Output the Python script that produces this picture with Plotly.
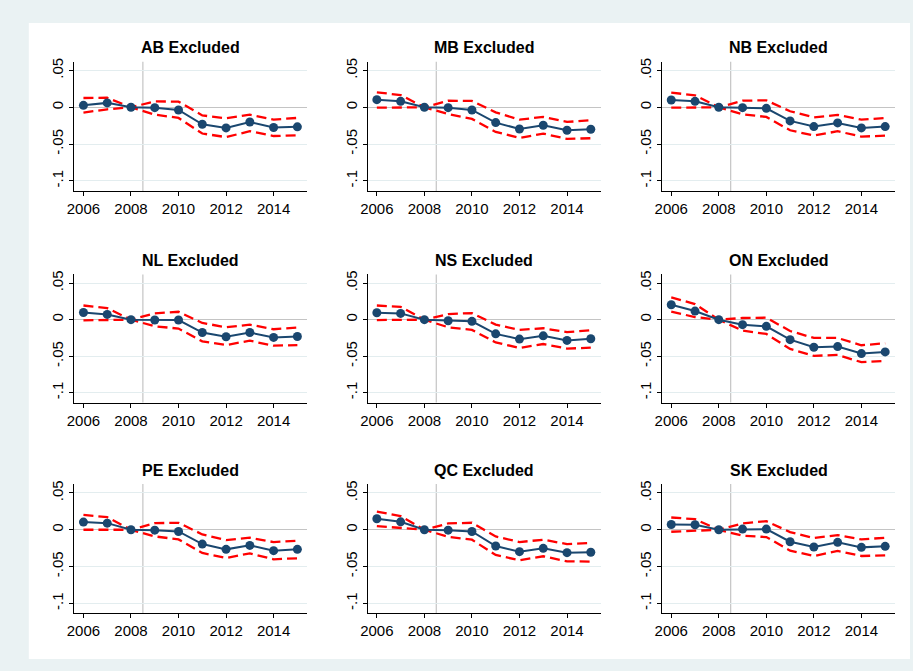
import plotly.graph_objects as go

# event-study estimates with 95% CI, one panel per excluded province
years = [2006, 2007, 2008, 2009, 2010, 2011, 2012, 2013, 2014, 2015]
provinces = ["AB", "MB", "NB", "NL", "NS", "ON", "PE", "QC", "SK"]

est = {
    "AB": [0.0027, 0.0060, 0, -0.0005, -0.0036, -0.0230, -0.0280, -0.0200, -0.0275, -0.0265],
    "MB": [0.0104, 0.0081, 0, -0.0005, -0.0036, -0.0208, -0.0294, -0.0244, -0.0312, -0.0298],
    "NB": [0.0099, 0.0081, 0, -0.0005, -0.0014, -0.0185, -0.0262, -0.0212, -0.0280, -0.0262],
    "NL": [0.0099, 0.0072, 0, -0.0005, -0.0005, -0.0176, -0.0234, -0.0176, -0.0243, -0.0230],
    "NS": [0.0095, 0.0086, 0, -0.0014, -0.0023, -0.0194, -0.0266, -0.0221, -0.0284, -0.0261],
    "ON": [0.0205, 0.0118, 0, -0.0068, -0.0091, -0.0273, -0.0377, -0.0368, -0.0464, -0.0441],
    "PE": [0.0104, 0.0090, 0, -0.0005, -0.0023, -0.0194, -0.0266, -0.0212, -0.0284, -0.0266],
    "QC": [0.0149, 0.0108, 0, -0.0005, -0.0023, -0.0221, -0.0297, -0.0252, -0.0311, -0.0306],
    "SK": [0.0072, 0.0068, 0, 0.0009, 0.0009, -0.0162, -0.0234, -0.0171, -0.0239, -0.0225],
}
upper = {
    "AB": [0.0126, 0.0130, 0, 0.0080, 0.0077, -0.0110, -0.0150, -0.0100, -0.0167, -0.0144],
    "MB": [0.0203, 0.0167, 0, 0.0090, 0.0086, -0.0068, -0.0167, -0.0131, -0.0199, -0.0176],
    "NB": [0.0199, 0.0163, 0, 0.0090, 0.0095, -0.0054, -0.0136, -0.0104, -0.0167, -0.0145],
    "NL": [0.0194, 0.0158, 0, 0.0086, 0.0108, -0.0045, -0.0104, -0.0068, -0.0131, -0.0108],
    "NS": [0.0194, 0.0176, 0, 0.0077, 0.0090, -0.0068, -0.0140, -0.0117, -0.0171, -0.0144],
    "ON": [0.0305, 0.0214, 0, 0.0023, 0.0027, -0.0155, -0.0250, -0.0250, -0.0350, -0.0323],
    "PE": [0.0203, 0.0171, 0, 0.0090, 0.0095, -0.0063, -0.0140, -0.0108, -0.0167, -0.0149],
    "QC": [0.0248, 0.0185, 0, 0.0086, 0.0095, -0.0090, -0.0167, -0.0135, -0.0194, -0.0180],
    "SK": [0.0167, 0.0144, 0, 0.0086, 0.0117, -0.0032, -0.0113, -0.0072, -0.0131, -0.0108],
}
lower = {
    "AB": [-0.0072, -0.0027, 0, -0.0099, -0.0144, -0.0356, -0.0405, -0.0324, -0.0390, -0.0380],
    "MB": [-0.0005, -0.0005, 0, -0.0090, -0.0158, -0.0334, -0.0416, -0.0357, -0.0429, -0.0420],
    "NB": [-0.0005, 0.0000, 0, -0.0095, -0.0131, -0.0312, -0.0384, -0.0325, -0.0398, -0.0384],
    "NL": [-0.0009, -0.0009, 0, -0.0090, -0.0122, -0.0297, -0.0347, -0.0288, -0.0356, -0.0347],
    "NS": [-0.0005, 0.0000, 0, -0.0104, -0.0140, -0.0311, -0.0387, -0.0333, -0.0396, -0.0383],
    "ON": [0.0109, 0.0036, 0, -0.0150, -0.0195, -0.0400, -0.0495, -0.0482, -0.0582, -0.0564],
    "PE": [0.0000, 0.0000, 0, -0.0090, -0.0131, -0.0315, -0.0383, -0.0320, -0.0401, -0.0387],
    "QC": [0.0050, 0.0027, 0, -0.0095, -0.0135, -0.0342, -0.0414, -0.0360, -0.0428, -0.0432],
    "SK": [-0.0027, -0.0018, 0, -0.0081, -0.0099, -0.0284, -0.0356, -0.0288, -0.0356, -0.0347],
}

ytick_vals = [0.05, 0, -0.05, -0.1]
ytick_text = [".05", "0", "-.05", "-.1"]
xtick_vals = [2006, 2008, 2010, 2012, 2014]

W, H = 913, 671
NAVY = "#1a476f"
RED = "#ff0000"
BG = "#eaf2f3"

# panel pixel boxes (left, right) and (top, bottom) in window pixels
col_px = [(67, 302), (363, 598), (660, 895)]
row_px = [(58, 188), (272, 401), (483, 613)]


def px_x(x):
    return x / W


def px_y(y):
    return 1 - y / H


fig = go.Figure()
layout = {}
shapes = [dict(type="rect", xref="paper", yref="paper",
               x0=px_x(21), x1=px_x(910), y0=px_y(659), y1=px_y(19),
               fillcolor="white", line=dict(width=0), layer="below")]
annotations = []

for n, prov in enumerate(provinces):
    r, c = divmod(n, 3)
    sfx = "" if n == 0 else str(n + 1)
    xa, ya = "x" + sfx, "y" + sfx
    x0, x1 = col_px[c]
    t, b = row_px[r]

    for ci in (upper, lower):
        fig.add_trace(go.Scatter(x=years, y=ci[prov], mode="lines", xaxis=xa, yaxis=ya,
                                 line=dict(color=RED, width=2.3, dash="10px,5px"),
                                 showlegend=False, hoverinfo="skip"))
    fig.add_trace(go.Scatter(x=years, y=est[prov], mode="lines+markers", xaxis=xa, yaxis=ya,
                             line=dict(color=NAVY, width=2),
                             marker=dict(color=NAVY, size=9),
                             showlegend=False))

    layout["xaxis" + sfx] = dict(
        domain=[px_x(x0), px_x(x1)], anchor=ya, range=[2005.62, 2015.42],
        tickvals=xtick_vals, ticks="outside", ticklen=4, tickcolor="black",
        showline=True, linecolor="black", linewidth=1, showgrid=False, zeroline=False,
        tickfont=dict(family="Liberation Sans, Arial", size=15, color="black"))
    layout["yaxis" + sfx] = dict(
        domain=[px_y(b), px_y(t)], anchor=xa, range=[-0.1135, 0.062],
        tickvals=ytick_vals, ticktext=ytick_text, tickangle=-90,
        ticks="outside", ticklen=4, tickcolor="black",
        showline=True, linecolor="black", linewidth=1,
        showgrid=True, gridcolor="#e3edef", gridwidth=1,
        zeroline=True, zerolinecolor="#c4c4c4", zerolinewidth=1,
        tickfont=dict(family="Liberation Sans, Arial", size=15, color="black"))

    shapes.append(dict(type="line", xref=xa, yref=ya + " domain",
                       x0=2008.5, x1=2008.5, y0=0, y1=1,
                       line=dict(color="#c4c4c4", width=1.2), layer="below"))
    annotations.append(dict(text="<b>%s Excluded</b>" % prov, xref="paper", yref="paper",
                            x=px_x((x0 + x1) / 2), y=px_y(t - 14), showarrow=False,
                            xanchor="center", yanchor="middle",
                            font=dict(family="Liberation Sans, Arial", size=16, color="black")))

# no layout width/height: the div size below drives the figure size
fig.update_layout(autosize=True, margin=dict(l=0, r=0, t=0, b=0),
                  paper_bgcolor=BG, plot_bgcolor="white",
                  shapes=shapes, annotations=annotations, **layout)

# pin the figure div to the window origin so the body margin does not shift it
fig.write_html("out.html",
               config={"displayModeBar": False},
               default_width="913px",
               default_height="671px; position:fixed; top:0; left:0")
